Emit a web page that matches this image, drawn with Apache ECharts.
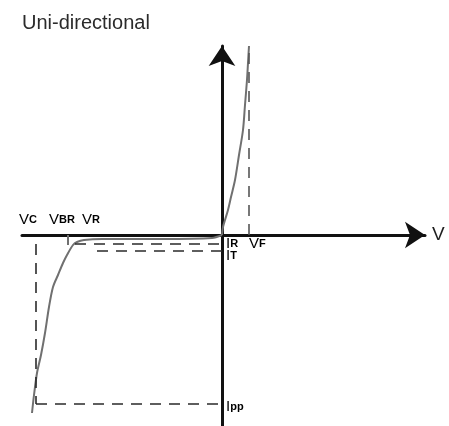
<!DOCTYPE html>
<html>
<head>
<meta charset="utf-8">
<script src="https://cdn.jsdelivr.net/npm/echarts@6/dist/echarts.min.js"></script>
<style>html,body{margin:0;background:#fff}#chart{width:449px;height:426px}</style>
</head>
<body>
<div id="chart"></div>
<script>
// I-V characteristic, arbitrary units, origin where the axes cross
const forwardCurve = [[0, 0], [1, 8], [3, 15], [6, 25], [9, 38], [13, 55], [17, 80], [21, 105], [23, 130], [25, 155], [26, 172], [27, 189]];
const reverseCurve = [[0, 0], [-10, -3], [-60, -4], [-120, -4], [-138, -5], [-145, -7], [-149, -10], [-155, -20], [-159, -28],
	[-164, -40], [-169, -52], [-173, -72], [-177, -98], [-181, -120], [-185, -138], [-188, -160], [-190, -178]];
const vbrTick = [[-154, 0], [-154, -10]];
// dashed guides
const vfGuide = [[27, 0], [27, 189]];
const irGuide = [[-147, -9], [0, -9]];
const itGuide = [[-125, -16], [0, -16]];
const vcGuide = [[-186, -9], [-186, -169]];
const ippGuide = [[-186, -169], [0, -169]];

const
	CURVE = { color: '#707070', width: 2 },
	DASH = { color: '#2a2a2a', width: 1.6, type: [11, 8] },
	FONT = 'Liberation Sans, Arial, sans-serif',
	RICH = {
		v: { fontSize: 15, fontFamily: FONT, color: '#1e1e1e' },
		s: { fontSize: 11, fontFamily: FONT, color: '#1e1e1e', fontWeight: 'bold' }
	};

function line(data, style, smooth) {
	return { type: 'line', data, showSymbol: false, silent: true, smooth: smooth || false, lineStyle: style, z: 3 };
}

function label(x, y, text) {
	return { type: 'text', left: x, top: y, style: { text, rich: RICH, font: '15px ' + FONT } };
}

function axis(min, max) {
	return {
		type: 'value', min, max,
		axisLine: { onZero: true, symbol: ['none', 'arrow'], symbolSize: [20, 20], lineStyle: { color: '#111', width: 3 } },
		axisTick: { show: false }, axisLabel: { show: false }, splitLine: { show: false }
	};
}

const chart = echarts.init(document.getElementById('chart'));
chart.setOption({
	animation: false,
	title: { text: 'Uni-directional', left: 17, top: 8, textStyle: { fontSize: 20, fontWeight: 'normal', color: '#2b2b2b', fontFamily: FONT } },
	grid: { left: 22, right: 24, top: 46, bottom: 0 },
	xAxis: Object.assign(axis(-200, 203), { name: 'V', nameGap: 7, nameTextStyle: { fontSize: 19, color: '#1e1e1e', fontFamily: FONT } }),
	yAxis: axis(-191, 189),
	series: [
		line(forwardCurve, CURVE, 0.3),
		line(reverseCurve, CURVE, 0.3),
		line(vbrTick, CURVE),
		line(vfGuide, Object.assign({}, DASH, { color: '#555' })),
		line(irGuide, DASH),
		line(itGuide, DASH),
		line(vcGuide, DASH),
		line(ippGuide, DASH)
	],
	graphic: [
		label(19, 212, '{v|V}{s|C}'),
		label(49, 212, '{v|V}{s|BR}'),
		label(82, 212, '{v|V}{s|R}'),
		label(226, 236, '{v|I}{s|R}'),
		label(249, 236, '{v|V}{s|F}'),
		label(226, 248, '{v|I}{s|T}'),
		label(226, 399, '{v|I}{s|pp}')
	]
});
</script>
</body>
</html>
